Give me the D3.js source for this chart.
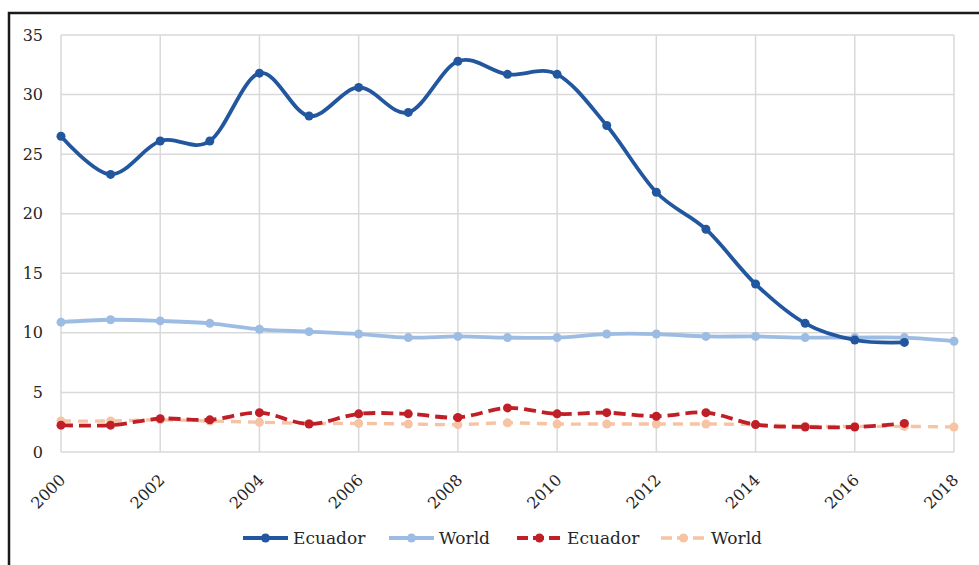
<!DOCTYPE html>
<html>
<head>
<meta charset="utf-8">
<script src="https://cdn.jsdelivr.net/npm/d3@7"></script>
<style>
  html, body { margin: 0; padding: 0; background: #fff; }
  svg { display: block; }
</style>
</head>
<body>
<svg id="chart" width="979" height="565"></svg>
<script>
// Years on the horizontal axis
const years = [2000, 2001, 2002, 2003, 2004, 2005, 2006, 2007, 2008, 2009,
               2010, 2011, 2012, 2013, 2014, 2015, 2016, 2017, 2018];

// Upper pair of series (solid lines)
const ecuadorUpper = [26.5, 23.3, 26.1, 26.1, 31.8, 28.2, 30.6, 28.5, 32.8, 31.7,
                      31.7, 27.4, 21.8, 18.7, 14.1, 10.8, 9.4, 9.2, null];
const worldUpper   = [10.9, 11.1, 11.0, 10.8, 10.3, 10.1, 9.9, 9.6, 9.7, 9.6,
                      9.6, 9.9, 9.9, 9.7, 9.7, 9.6, 9.6, 9.6, 9.3];

// Lower pair of series (dashed lines)
const ecuadorLower = [2.25, 2.25, 2.8, 2.7, 3.3, 2.35, 3.2, 3.2, 2.9, 3.7,
                      3.2, 3.3, 3.0, 3.3, 2.3, 2.1, 2.1, 2.4, null];
const worldLower   = [2.6, 2.6, 2.7, 2.6, 2.5, 2.4, 2.4, 2.35, 2.3, 2.45,
                      2.35, 2.35, 2.35, 2.35, 2.3, 2.15, 2.15, 2.15, 2.1];

// Axis ticks
const yTicks = [0, 5, 10, 15, 20, 25, 30, 35];
const xTicks = [2000, 2002, 2004, 2006, 2008, 2010, 2012, 2014, 2016, 2018];

// Series styling and legend labels
const seriesNames = ["Ecuador", "World", "Ecuador", "World"];
const seriesColors = ["#22579f", "#9dbce4", "#c01f27", "#f6c3a3"];
const seriesDash = [null, null, "12,6", "10,7"];
const seriesWidth = [3.8, 3.8, 3.8, 3.4];

const FONT = "'DejaVu Serif', serif";
const TEXT_COLOR = "#262626";

const svg = d3.select("#chart");

// Outer frame
svg.append("rect")
  .attr("x", 9).attr("y", 13)
  .attr("width", 1000).attr("height", 600)
  .attr("fill", "#fff")
  .attr("stroke", "#1a1a1a")
  .attr("stroke-width", 2.5);

const plotLeft = 61, plotRight = 954, plotTop = 35, plotBottom = 452;

const x = d3.scaleLinear().domain([2000, 2018]).range([plotLeft, plotRight]);
const y = d3.scaleLinear().domain([0, 35]).range([plotBottom, plotTop]);

// Gridlines
const grid = svg.append("g");
grid.selectAll("line.h").data(yTicks).join("line")
  .attr("class", "h")
  .attr("x1", plotLeft).attr("x2", plotRight)
  .attr("y1", d => y(d)).attr("y2", d => y(d))
  .attr("stroke", "#d9d9d9").attr("stroke-width", 1.5);
grid.selectAll("line.v").data(xTicks).join("line")
  .attr("class", "v")
  .attr("y1", plotTop).attr("y2", plotBottom)
  .attr("x1", d => x(d)).attr("x2", d => x(d))
  .attr("stroke", "#d9d9d9").attr("stroke-width", 1.5);

// Y axis labels
const yAxis = svg.append("g")
  .attr("transform", `translate(${plotLeft},0)`)
  .call(d3.axisLeft(y).tickValues(yTicks).tickSize(0).tickPadding(18));
yAxis.attr("font-family", FONT).attr("font-size", 16);
yAxis.select(".domain").remove();
yAxis.selectAll("text").attr("fill", TEXT_COLOR);

// X axis labels, rotated
const xAxis = svg.append("g")
  .attr("transform", `translate(0,${plotBottom})`)
  .call(d3.axisBottom(x).tickValues(xTicks).tickFormat(d3.format("d")).tickSize(0));
xAxis.attr("font-family", FONT).attr("font-size", 16);
xAxis.select(".domain").remove();
xAxis.selectAll("text")
  .attr("fill", TEXT_COLOR)
  .attr("text-anchor", "end")
  .attr("dy", 0)
  .attr("y", 0)
  .attr("transform", "translate(5,29) rotate(-45)");

// Series lines and markers
const allSeries = [ecuadorUpper, worldUpper, ecuadorLower, worldLower];
const line = d3.line()
  .x(d => x(d[0])).y(d => y(d[1]))
  .curve(d3.curveCatmullRom.alpha(0));

const drawOrder = [3, 2, 1, 0];
drawOrder.forEach(i => {
  const pts = years.map((yr, k) => [yr, allSeries[i][k]]).filter(p => p[1] != null);
  const g = svg.append("g");
  g.append("path")
    .datum(pts)
    .attr("d", line)
    .attr("fill", "none")
    .attr("stroke", seriesColors[i])
    .attr("stroke-width", seriesWidth[i])
    .attr("stroke-dasharray", seriesDash[i])
    .attr("stroke-linecap", "butt")
    .attr("stroke-linejoin", "round");
  g.selectAll("circle").data(pts).join("circle")
    .attr("cx", d => x(d[0])).attr("cy", d => y(d[1]))
    .attr("r", 4.5)
    .attr("fill", seriesColors[i]);
});

// Legend
const legendX = [243, 389, 517, 661];
const legend = svg.append("g")
  .attr("transform", "translate(0,538)")
  .attr("font-family", FONT)
  .attr("font-size", 17);
seriesNames.forEach((name, i) => {
  const lg = legend.append("g").attr("transform", `translate(${legendX[i]},0)`);
  lg.append("line")
    .attr("x1", 0).attr("x2", 45).attr("y1", 0).attr("y2", 0)
    .attr("stroke", seriesColors[i])
    .attr("stroke-width", seriesWidth[i])
    .attr("stroke-dasharray", seriesDash[i] ? "11,5" : null);
  lg.append("circle").attr("cx", 22.5).attr("cy", 0).attr("r", 4.5).attr("fill", seriesColors[i]);
  lg.append("text")
    .attr("x", 50).attr("y", 6)
    .attr("fill", TEXT_COLOR)
    .text(name);
});
</script>
</body>
</html>
